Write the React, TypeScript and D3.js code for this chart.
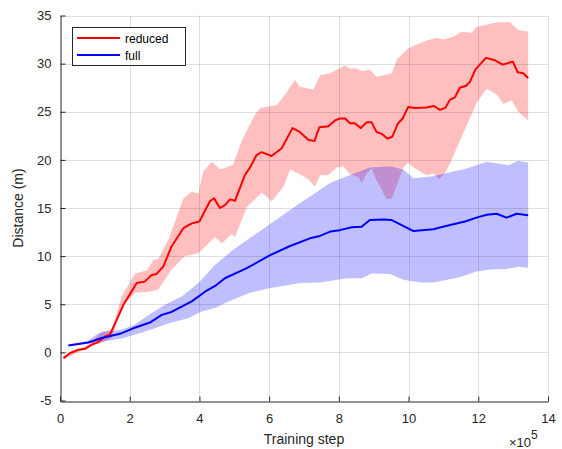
import React, { useEffect, useRef } from 'react'
import * as d3 from 'd3'

// training step values are in units of 1e5
const redSteps = [0.1, 0.29, 0.53, 0.72, 0.91, 1.1, 1.29, 1.43, 1.63, 1.82, 2.0, 2.2, 2.43, 2.63, 2.77, 2.96, 3.2, 3.54, 3.78, 4.0, 4.3, 4.42, 4.59, 4.73, 4.88, 5.02, 5.3, 5.45, 5.64, 5.78, 6.07, 6.36, 6.67, 6.88, 7.12, 7.3, 7.44, 7.7, 7.89, 8.03, 8.18, 8.32, 8.46, 8.63, 8.8, 8.94, 9.08, 9.23, 9.4, 9.53, 9.69, 9.83, 9.99, 10.18, 10.52, 10.73, 10.9, 11.05, 11.19, 11.33, 11.47, 11.65, 11.76, 11.92, 12.22, 12.48, 12.7, 12.99, 13.13, 13.29, 13.43]
const redMean = [-0.6, -0.07, 0.27, 0.37, 0.8, 1.07, 1.65, 1.83, 3.4, 4.95, 6.0, 7.2, 7.35, 8.05, 8.15, 8.9, 11, 12.9, 13.4, 13.6, 15.7, 16.0, 15.0, 15.3, 15.9, 15.75, 18.4, 19.2, 20.5, 20.8, 20.4, 21.2, 23.3, 22.9, 22.1, 21.95, 23.4, 23.5, 24.1, 24.3, 24.3, 23.8, 23.8, 23.3, 23.9, 23.9, 22.9, 22.7, 22.2, 22.4, 23.75, 24.3, 25.5, 25.4, 25.45, 25.6, 25.2, 25.4, 26.25, 26.5, 27.5, 27.7, 28.1, 29.4, 30.6, 30.35, 29.9, 30.2, 29.1, 29.0, 28.5]

const redUpperSteps = [0.1, 0.9, 1.2, 1.48, 1.77, 2.15, 2.49, 2.68, 2.82, 3.11, 3.54, 3.78, 3.97, 4.11, 4.35, 4.6, 4.97, 5.21, 5.59, 5.74, 6.22, 6.46, 6.74, 6.88, 7.27, 7.46, 7.75, 8.18, 8.32, 8.51, 8.66, 8.89, 9.08, 9.52, 9.66, 9.99, 10.23, 10.52, 10.81, 11.0, 11.28, 11.52, 11.81, 11.95, 12.53, 12.91, 13.15, 13.43]
const redUpper = [-0.45, 0.95, 2.2, 2.3, 5.8, 8.2, 8.5, 9.6, 9.7, 11.7, 16.0, 16.7, 16.5, 18.8, 19.8, 19.0, 19.5, 22, 24.7, 25.4, 25.7, 26.8, 28.3, 27.6, 27.3, 28.8, 29.0, 29.8, 29.5, 29.5, 29.2, 29.4, 28.6, 29.0, 30.4, 31.6, 32.0, 32.4, 32.7, 32.5, 32.8, 33.3, 33.2, 33.8, 34.3, 34.3, 33.5, 33.3]
const redLowerSteps = [0.1, 0.9, 1.2, 1.48, 1.77, 2.15, 2.53, 2.82, 3.2, 3.58, 3.97, 4.45, 4.64, 4.93, 5.02, 5.36, 5.79, 6.07, 6.41, 6.6, 6.88, 7.12, 7.31, 7.46, 7.69, 7.94, 8.13, 8.32, 8.56, 8.66, 8.8, 8.94, 9.08, 9.23, 9.37, 9.52, 9.66, 9.85, 9.99, 10.14, 10.52, 10.71, 10.88, 11.04, 11.19, 11.38, 11.57, 11.95, 12.24, 12.53, 12.72, 12.96, 13.15, 13.43]
const redLower = [-0.75, 0.65, 1.0, 1.5, 4.8, 6.2, 6.3, 6.5, 8.6, 10.0, 10.3, 12.0, 11.3, 12.3, 12.0, 15.1, 16.6, 15.7, 17.2, 19.0, 18.5, 18.0, 17.2, 18.4, 18.4, 19.2, 19.3, 18.5, 18.2, 17.6, 18.6, 19.1, 17.9, 16.9, 15.9, 16.0, 17.3, 19.2, 19.7, 19.2, 18.4, 18.6, 18.0, 18.6, 19.6, 21.2, 22.8, 25.9, 27.4, 26.8, 25.8, 26.2, 25.0, 24.1]

const blueSteps = [0.24, 0.81, 1.2, 1.72, 2.1, 2.58, 2.92, 3.2, 3.78, 4.16, 4.45, 4.73, 5.36, 6.03, 6.6, 7.17, 7.46, 7.75, 8.03, 8.37, 8.65, 8.89, 9.28, 9.52, 10.14, 10.71, 11.04, 11.62, 11.95, 12.24, 12.53, 12.81, 13.1, 13.43]
const blueMean = [0.72, 1.03, 1.5, 1.93, 2.5, 3.1, 3.9, 4.2, 5.3, 6.3, 6.9, 7.7, 8.75, 10.1, 11.05, 11.85, 12.1, 12.55, 12.7, 13.0, 13.05, 13.75, 13.8, 13.75, 12.6, 12.8, 13.1, 13.6, 14.0, 14.3, 14.4, 14.0, 14.4, 14.25]

const blueUpperSteps = [0.24, 0.81, 1.1, 1.39, 1.77, 2.15, 2.63, 3.01, 3.49, 3.97, 4.45, 4.97, 5.93, 6.88, 7.75, 8.23, 8.89, 9.47, 9.85, 10.14, 10.71, 11.28, 11.67, 12.24, 12.62, 12.86, 13.15, 13.43]
const blueUpper = [0.8, 1.2, 2.0, 2.2, 2.35, 2.9, 4.1, 4.95, 5.8, 7.2, 9.1, 10.65, 13.1, 15.5, 17.6, 18.3, 19.2, 19.35, 19.0, 18.1, 18.3, 18.8, 19.1, 19.8, 19.6, 19.45, 19.9, 19.7]
const blueLowerSteps = [0.24, 0.81, 1.2, 1.77, 2.34, 2.72, 3.1, 3.68, 4.06, 4.45, 4.78, 5.45, 6.03, 6.31, 6.88, 7.46, 8.23, 8.66, 8.94, 9.47, 9.85, 10.33, 10.71, 11.47, 11.95, 12.34, 12.81, 13.15, 13.43]
const blueLower = [0.65, 0.9, 1.1, 1.45, 2.05, 2.5, 3.0, 3.55, 4.25, 4.6, 5.2, 6.2, 6.7, 6.85, 7.2, 7.25, 7.7, 7.7, 8.2, 8.15, 7.55, 7.25, 7.25, 7.8, 8.4, 8.6, 8.65, 8.9, 8.8]

const xTicks = [0, 2, 4, 6, 8, 10, 12, 14]
const yTicks = [-5, 0, 5, 10, 15, 20, 25, 30, 35]
const legendNames = ['reduced', 'full']
const legendColors = ['#ff0000', '#0000ff']

const FONT = '"Liberation Sans", Arial, Helvetica, sans-serif'

export default function App() {
  const svgRef = useRef(null)

  useEffect(() => {
    const width = 562
    const height = 449
    const margin = { left: 60, right: 14, top: 15.5, bottom: 48.5 }

    const svg = d3.select(svgRef.current)
    svg.selectAll('*').remove()
    svg.attr('width', width).attr('height', height)

    const x = d3.scaleLinear().domain([0, 14]).range([margin.left, width - margin.right])
    const y = d3.scaleLinear().domain([-5, 35]).range([height - margin.bottom, margin.top])

    const pts = (s: number[], v: number[]) => s.map((d, i) => [d, v[i]] as [number, number])
    const line = d3.line<[number, number]>().x(d => x(d[0])).y(d => y(d[1]))

    // shaded bands: upper edge forward, lower edge back
    const band = (us: number[], u: number[], ls: number[], l: number[]) =>
      line(pts(us, u).concat(pts(ls, l).reverse())) + 'Z'

    svg.append('path')
      .attr('d', band(redUpperSteps, redUpper, redLowerSteps, redLower))
      .attr('fill', '#ff0000').attr('fill-opacity', 0.25)
    svg.append('path')
      .attr('d', band(blueUpperSteps, blueUpper, blueLowerSteps, blueLower))
      .attr('fill', '#0000ff').attr('fill-opacity', 0.25)

    // grid
    const grid = svg.append('g').attr('stroke', '#262626').attr('stroke-opacity', 0.15).attr('stroke-width', 1)
    xTicks.slice(1).forEach(t => {
      grid.append('line').attr('x1', Math.round(x(t)) + 0.5).attr('x2', Math.round(x(t)) + 0.5)
        .attr('y1', y(-5)).attr('y2', y(35))
    })
    yTicks.slice(1).forEach(t => {
      grid.append('line').attr('y1', Math.round(y(t)) + 0.5).attr('y2', Math.round(y(t)) + 0.5)
        .attr('x1', x(0)).attr('x2', x(14))
    })

    // mean curves
    svg.append('path').attr('d', line(pts(redSteps, redMean)))
      .attr('fill', 'none').attr('stroke', '#ff0000').attr('stroke-width', 2).attr('stroke-linejoin', 'round')
    svg.append('path').attr('d', line(pts(blueSteps, blueMean)))
      .attr('fill', 'none').attr('stroke', '#0000ff').attr('stroke-width', 2).attr('stroke-linejoin', 'round')

    // axes (ticks pointing inward, like MATLAB)
    const xAxis = d3.axisBottom(x).tickValues(xTicks).tickSizeInner(-5).tickSizeOuter(0).tickPadding(12)
    const yAxis = d3.axisLeft(y).tickValues(yTicks).tickSizeInner(-5).tickSizeOuter(0).tickPadding(9)
      .tickFormat(d => String(d))

    const gx = svg.append('g').attr('transform', `translate(0, ${Math.round(y(-5)) + 0.5})`).call(xAxis)
    const gy = svg.append('g').attr('transform', `translate(${Math.round(x(0)) + 0.5}, 0)`).call(yAxis)
    ;[gx, gy].forEach(g => {
      g.select('.domain').attr('stroke', '#262626')
      g.selectAll('.tick line').attr('stroke', '#262626')
      g.selectAll('.tick text').attr('fill', '#262626').style('font-family', FONT).style('font-size', '13px')
    })

    svg.append('text')
      .attr('x', (x(0) + x(14)) / 2).attr('y', 444)
      .attr('text-anchor', 'middle').attr('fill', '#262626')
      .style('font-family', FONT).style('font-size', '14px')
      .text('Training step')
    svg.append('text')
      .attr('transform', `translate(23, ${(y(-5) + y(35)) / 2}) rotate(-90)`)
      .attr('text-anchor', 'middle').attr('fill', '#262626')
      .style('font-family', FONT).style('font-size', '14px')
      .text('Distance (m)')

    const expo = svg.append('text').attr('x', 509).attr('y', 447).attr('fill', '#262626')
      .style('font-family', FONT).style('font-size', '13px')
    expo.append('tspan').text('\u00d710')
    expo.append('tspan').attr('dy', -8).style('font-size', '12px').text('5')

    // legend
    const lg = svg.append('g')
    lg.append('rect').attr('x', 72.5).attr('y', 27.5).attr('width', 113).attr('height', 38)
      .attr('fill', '#ffffff').attr('stroke', '#262626').attr('stroke-width', 1)
    legendNames.forEach((name, i) => {
      const ly = 38 + i * 17
      lg.append('line').attr('x1', 77).attr('x2', 120).attr('y1', ly).attr('y2', ly)
        .attr('stroke', legendColors[i]).attr('stroke-width', 2)
      lg.append('text').attr('x', 125).attr('y', ly + 4.5).attr('fill', '#000')
        .style('font-family', FONT).style('font-size', '12px').text(name)
    })
  }, [])

  return (
    <svg ref={svgRef} style={{ position: 'absolute', left: 0, top: 0, background: '#fff' }}></svg>
  )
}
